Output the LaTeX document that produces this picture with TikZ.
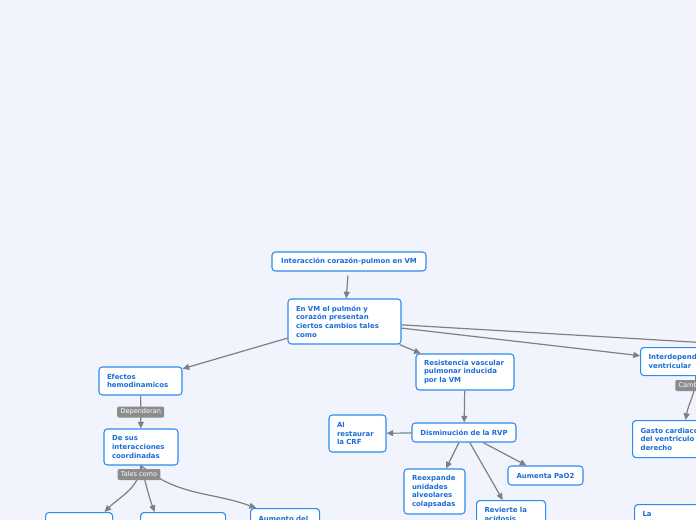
\documentclass[tikz,border=0pt]{standalone}
\usepackage{fontspec}
\setmainfont{DejaVu Sans}
\usepackage{xcolor}
\usepackage{tikz}
\usetikzlibrary{positioning,arrows.meta}
\definecolor{bgpage}{HTML}{F1F4FD}
\definecolor{boxline}{HTML}{2C8BF0}
\definecolor{boxtext}{HTML}{1A6CD6}
\definecolor{edgegray}{HTML}{808080}
\definecolor{taggray}{HTML}{8C8C8C}

\begin{document}
\begin{tikzpicture}[
  x=0.75pt,y=-0.75pt,
  box/.style={draw=boxline,fill=white,line width=0.8pt,rounded corners=2.5pt,
    font=\fontsize{5.2}{6.4}\selectfont\bfseries,text=boxtext,align=left,
    inner xsep=6pt,inner ysep=0pt},
  boxc/.style={box,align=center},
  tag/.style={fill=taggray,text=white,rounded corners=1pt,
    font=\fontsize{4.9}{5.5}\selectfont,inner xsep=2.5pt,inner ysep=0pt,
    minimum height=8.25pt},
  >={Triangle[length=5pt,width=4.5pt]},
  ed/.style={->,draw=edgegray,line width=0.9pt,edgegray}
]
\useasboundingbox (0,0) rectangle (696,520);
\fill[bgpage] (0,0) rectangle (696,520);
\clip (0,0) rectangle (696,520);

% ---------------- top ----------------
\node[boxc,text width=103.5pt,minimum height=14.25pt] (inter) at (349,261.5)
  {Interacción corazón-pulmon en VM};
\node[box,text width=72.75pt,minimum height=33.75pt] (cambios) at (344.5,321.5)
  {En VM el pulmón y\\corazón presentan\\ciertos cambios tales\\como};
\coordinate (fuera) at (760,346);

% ---------------- left branch ----------------
\node[box,text width=50.25pt,minimum height=21pt] (efectos) at (140.5,381)
  {Efectos\\hemodinamicos};
\node[box,text width=43.5pt,minimum height=27pt] (coord) at (141,447)
  {De sus\\interacciones\\coordinadas};
\node[box,text width=38.25pt,minimum height=28pt,anchor=north west] (hijoA) at (45,512) {};
\node[box,text width=51.75pt,minimum height=28pt,anchor=north west] (hijoB) at (140,512) {};
\node[box,text width=39.75pt,minimum height=15pt,anchor=north west] (aumento) at (250,508)
  {Aumento del};

% ---------------- middle branch ----------------
\node[box,text width=61.5pt,minimum height=27pt] (resist) at (465,372)
  {Resistencia vascular\\pulmonar inducida\\por la VM};
\node[boxc,text width=66pt,minimum height=14.25pt] (dism) at (464,432.5)
  {Disminución de la RVP};
\node[box,text width=30.75pt,minimum height=27.75pt] (crf) at (357.5,433.5)
  {Al\\restaurar\\la CRF};
\node[box,text width=33.75pt,minimum height=33.75pt] (reexp) at (434.5,491.5)
  {Reexpande\\unidades\\alveolares\\colapsadas};
\node[box,text width=39.75pt,minimum height=21pt,anchor=north west] (revierte) at (476,500)
  {Revierte la\\acidosis};
\node[boxc,text width=44.25pt,minimum height=14.25pt] (pao) at (545.5,475.5)
  {Aumenta PaO2};

% ---------------- right branch ----------------
\node[box,text width=63pt,minimum height=21pt,anchor=north west] (interdep) at (640,347)
  {Interdependencia\\ventricular};
\node[box,text width=63pt,minimum height=27.75pt,anchor=north west] (gasto) at (632,420)
  {Gasto cardiaco\\del ventriculo\\derecho};
\node[box,text width=63pt,minimum height=13.5pt,anchor=north west] (la) at (634,504)
  {La};

% ---------------- connectors ----------------
\draw[ed,shorten <=3pt] (inter) -- (cambios);
\draw[ed] (cambios) -- (efectos);
\draw[ed] (cambios) -- (resist);
\draw[ed] (cambios) -- (interdep);
\draw[edgegray,line width=0.9pt] (cambios) -- (fuera);

\draw[ed] (efectos) -- node[tag]{Dependeran} (coord);
\draw[ed] (coord.south) to[out=-95,in=45] (hijoA.37);
\draw[ed] (coord.south) to[out=-75,in=110] (hijoB.146);
\draw[ed] (coord.south) to[out=-40,in=160] (aumento.160);
\node[tag] (tales) at (139,474.5) {Tales como};

\draw[ed] (resist) -- (dism);
\draw[ed] (dism) -- (crf);
\draw[ed] (dism) -- (reexp);
\draw[ed] (dism) -- (revierte);
\draw[ed] (dism) -- (pao);

\draw[ed] (interdep.-70) to[out=-90,in=80] (gasto.81);
\node[tag,anchor=west] (camb) at (675,385.5) {Cambios};
\end{tikzpicture}
\end{document}
